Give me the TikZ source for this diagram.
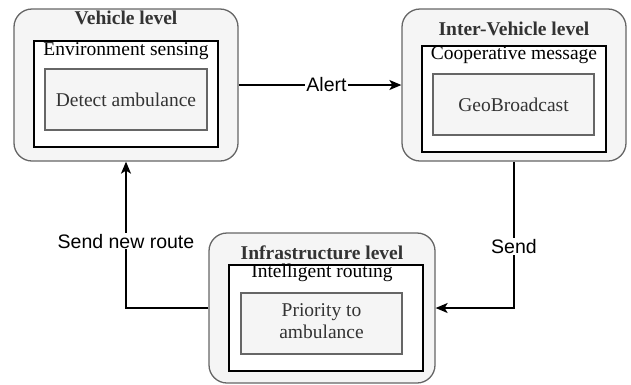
\documentclass[tikz,border=0pt]{standalone}
\usepackage{fontspec}
\setmainfont{Liberation Serif}
\newfontfamily\arialfont{Liberation Sans}
\usetikzlibrary{arrows.meta}
\definecolor{boxfill}{HTML}{F5F5F5}
\definecolor{boxline}{HTML}{666666}
\definecolor{txt}{HTML}{333333}
\tikzset{
  level/.style={draw=boxline, fill=boxfill, line width=1.3pt, rounded corners=18pt, inner sep=0pt},
  frame/.style={draw=black, fill=white, line width=1.8pt, inner sep=0pt},
  task/.style={draw=boxline, fill=boxfill, line width=1.3pt, inner sep=0pt, text=txt,
    font=\rmfamily\fontsize{19.5}{23}\selectfont},
  title/.style={text=txt, font=\rmfamily\fontsize{19.5}{23}\selectfont\bfseries, inner sep=0pt},
  sub/.style={text=black, font=\rmfamily\fontsize{19.5}{23}\selectfont, inner sep=0pt},
  conn/.style={line width=1.3pt, -{Stealth[length=12pt,width=10pt,inset=3pt]}},
  elabel/.style={fill=white, text=black, font=\arialfont\fontsize{19.5}{23}\selectfont, inner sep=1pt}
}
\begin{document}
\begin{tikzpicture}[x=1pt,y=-1pt]
\useasboundingbox (0,0) rectangle (631,384);
% Vehicle level
\node[level, minimum width=224pt, minimum height=152pt] (veh) at (126,85) {};
\node[frame, minimum width=184pt, minimum height=106pt] (vehf) at (126,94) {};
\node[task, minimum width=162pt, minimum height=61pt] (vehd) at (126,99.5) {Detect ambulance};
\node[title] (veht) at (126,18) {Vehicle level};
\node[sub] (vehs) at (126,51) {Environment sensing};
% Inter-Vehicle level
\node[level, minimum width=224pt, minimum height=152pt] (inter) at (514,85) {};
\node[frame, minimum width=184pt, minimum height=106pt] (interf) at (514,99) {};
\node[task, minimum width=161pt, minimum height=61pt] (interd) at (513.5,104.5) {GeoBroadcast};
\node[title] (intert) at (514,29) {Inter-Vehicle level};
\node[sub] (inters) at (514,55) {Cooperative message};
% Infrastructure level
\node[level, minimum width=226pt, minimum height=150pt] (infra) at (322,308) {};
\node[frame, minimum width=194pt, minimum height=106pt] (infraf) at (326,318) {};
\node[task, minimum width=161pt, minimum height=61pt] (infrad) at (321.5,323.5)
  {\renewcommand{\arraystretch}{0.95}\begin{tabular}{@{}c@{}}Priority to\\ambulance\end{tabular}};
\node[title] (infrat) at (322,253) {Infrastructure level};
\node[sub] (infras) at (322,273) {Intelligent routing};
% connectors
\draw[conn] (veh.east) -- node[elabel, pos=0.54] {Alert} (inter.west);
\draw[conn] (inter.south) |- node[elabel, pos=0.29] {Send} (infra.east);
\draw[conn] (infra.west) -| node[elabel, pos=0.728] {Send new route} (veh.south);
\end{tikzpicture}
\end{document}
